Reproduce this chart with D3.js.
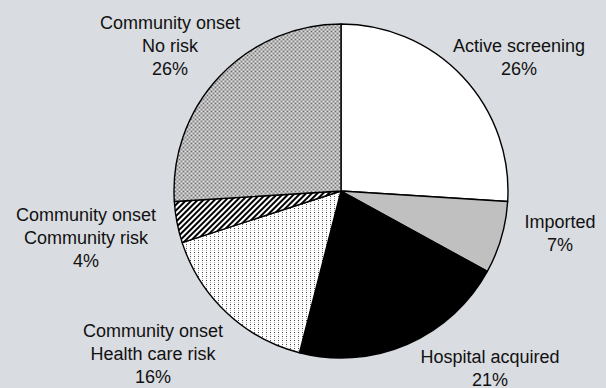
<!DOCTYPE html>
<html>
<head>
<meta charset="utf-8">
<script src="https://cdn.jsdelivr.net/npm/d3@7.9.0/dist/d3.min.js"></script>
<style>
  html, body { margin: 0; padding: 0; background: #d9dce0; }
  svg { display: block; }
  text { font-family: "Liberation Sans", Arial, sans-serif; font-size: 18px; fill: #111; }
</style>
</head>
<body>
<div id="chart"></div>
<script>
// slice order is clockwise from 12 o'clock
const categories = [
  ['Active screening'],
  ['Imported'],
  ['Hospital acquired'],
  ['Community onset', 'Health care risk'],
  ['Community onset', 'Community risk'],
  ['Community onset', 'No risk'],
];
const percents = [26, 7, 21, 16, 4, 26];
const fills = ['#ffffff', '#c0c0c0', '#000000', 'url(#dots)', 'url(#hatch)', 'url(#grain)'];

// label anchor (center x, first baseline) relative to pie centre
const labelAt = [
  [178, -139], [219, 37], [149, 172], [-188, 146], [-255, 30], [-171, -162],
];

const width = 606;
const height = 388;
const cx = 341;
const cy = 191;
const radius = 167;
const lineHeight = 23;

const svg = d3.select('#chart')
  .append('svg')
  .attr('width', width)
  .attr('height', height);

const defs = svg.append('defs');

// sparse dots on white
const dots = defs.append('pattern')
  .attr('id', 'dots')
  .attr('patternUnits', 'userSpaceOnUse')
  .attr('width', 4).attr('height', 4);
dots.append('rect').attr('width', 4).attr('height', 4).attr('fill', '#fff');
dots.append('rect').attr('x', 1).attr('y', 1).attr('width', 1).attr('height', 1).attr('fill', '#444');
dots.append('rect').attr('x', 1).attr('y', 3).attr('width', 1).attr('height', 1).attr('fill', '#aaa');

// diagonal hatch
const hatch = defs.append('pattern')
  .attr('id', 'hatch')
  .attr('patternUnits', 'userSpaceOnUse')
  .attr('width', 4).attr('height', 4)
  .attr('patternTransform', 'rotate(45)');
hatch.append('rect').attr('width', 4).attr('height', 4).attr('fill', '#fff');
hatch.append('rect').attr('width', 2).attr('height', 4).attr('fill', '#000');

// fine grey grain
const grain = defs.append('pattern')
  .attr('id', 'grain')
  .attr('patternUnits', 'userSpaceOnUse')
  .attr('width', 4).attr('height', 4);
grain.append('rect').attr('width', 4).attr('height', 4).attr('fill', '#b4b4b4');
grain.append('rect').attr('x', 0).attr('y', 0).attr('width', 1).attr('height', 1).attr('fill', '#e0e0e0');
grain.append('rect').attr('x', 2).attr('y', 2).attr('width', 1).attr('height', 1).attr('fill', '#e0e0e0');
grain.append('rect').attr('x', 2).attr('y', 0).attr('width', 1).attr('height', 1).attr('fill', '#6a6a6a');
grain.append('rect').attr('x', 0).attr('y', 2).attr('width', 1).attr('height', 1).attr('fill', '#8a8a8a');

const data = percents.map((v, i) => ({ value: v, lines: categories[i], fill: fills[i], at: labelAt[i] }));

const pie = d3.pie().sort(null).value((d) => d.value);
const arc = d3.arc().innerRadius(0).outerRadius(radius);

const g = svg.append('g').attr('transform', `translate(${cx}, ${cy})`);

g.selectAll('path')
  .data(pie(data))
  .join('path')
  .attr('d', arc)
  .attr('fill', (d) => d.data.fill)
  .attr('stroke', '#000')
  .attr('stroke-width', 1.4)
  .attr('stroke-linejoin', 'round');

const labels = g.selectAll('text.lbl')
  .data(data)
  .join('text')
  .attr('class', 'lbl')
  .attr('text-anchor', 'middle');

labels.each(function (d) {
  const t = d3.select(this);
  const rows = [...d.lines, d.value + '%'];
  rows.forEach((r, i) => {
    t.append('tspan')
      .attr('x', d.at[0])
      .attr('y', d.at[1] + i * lineHeight)
      .text(r);
  });
});
</script>
</body>
</html>
